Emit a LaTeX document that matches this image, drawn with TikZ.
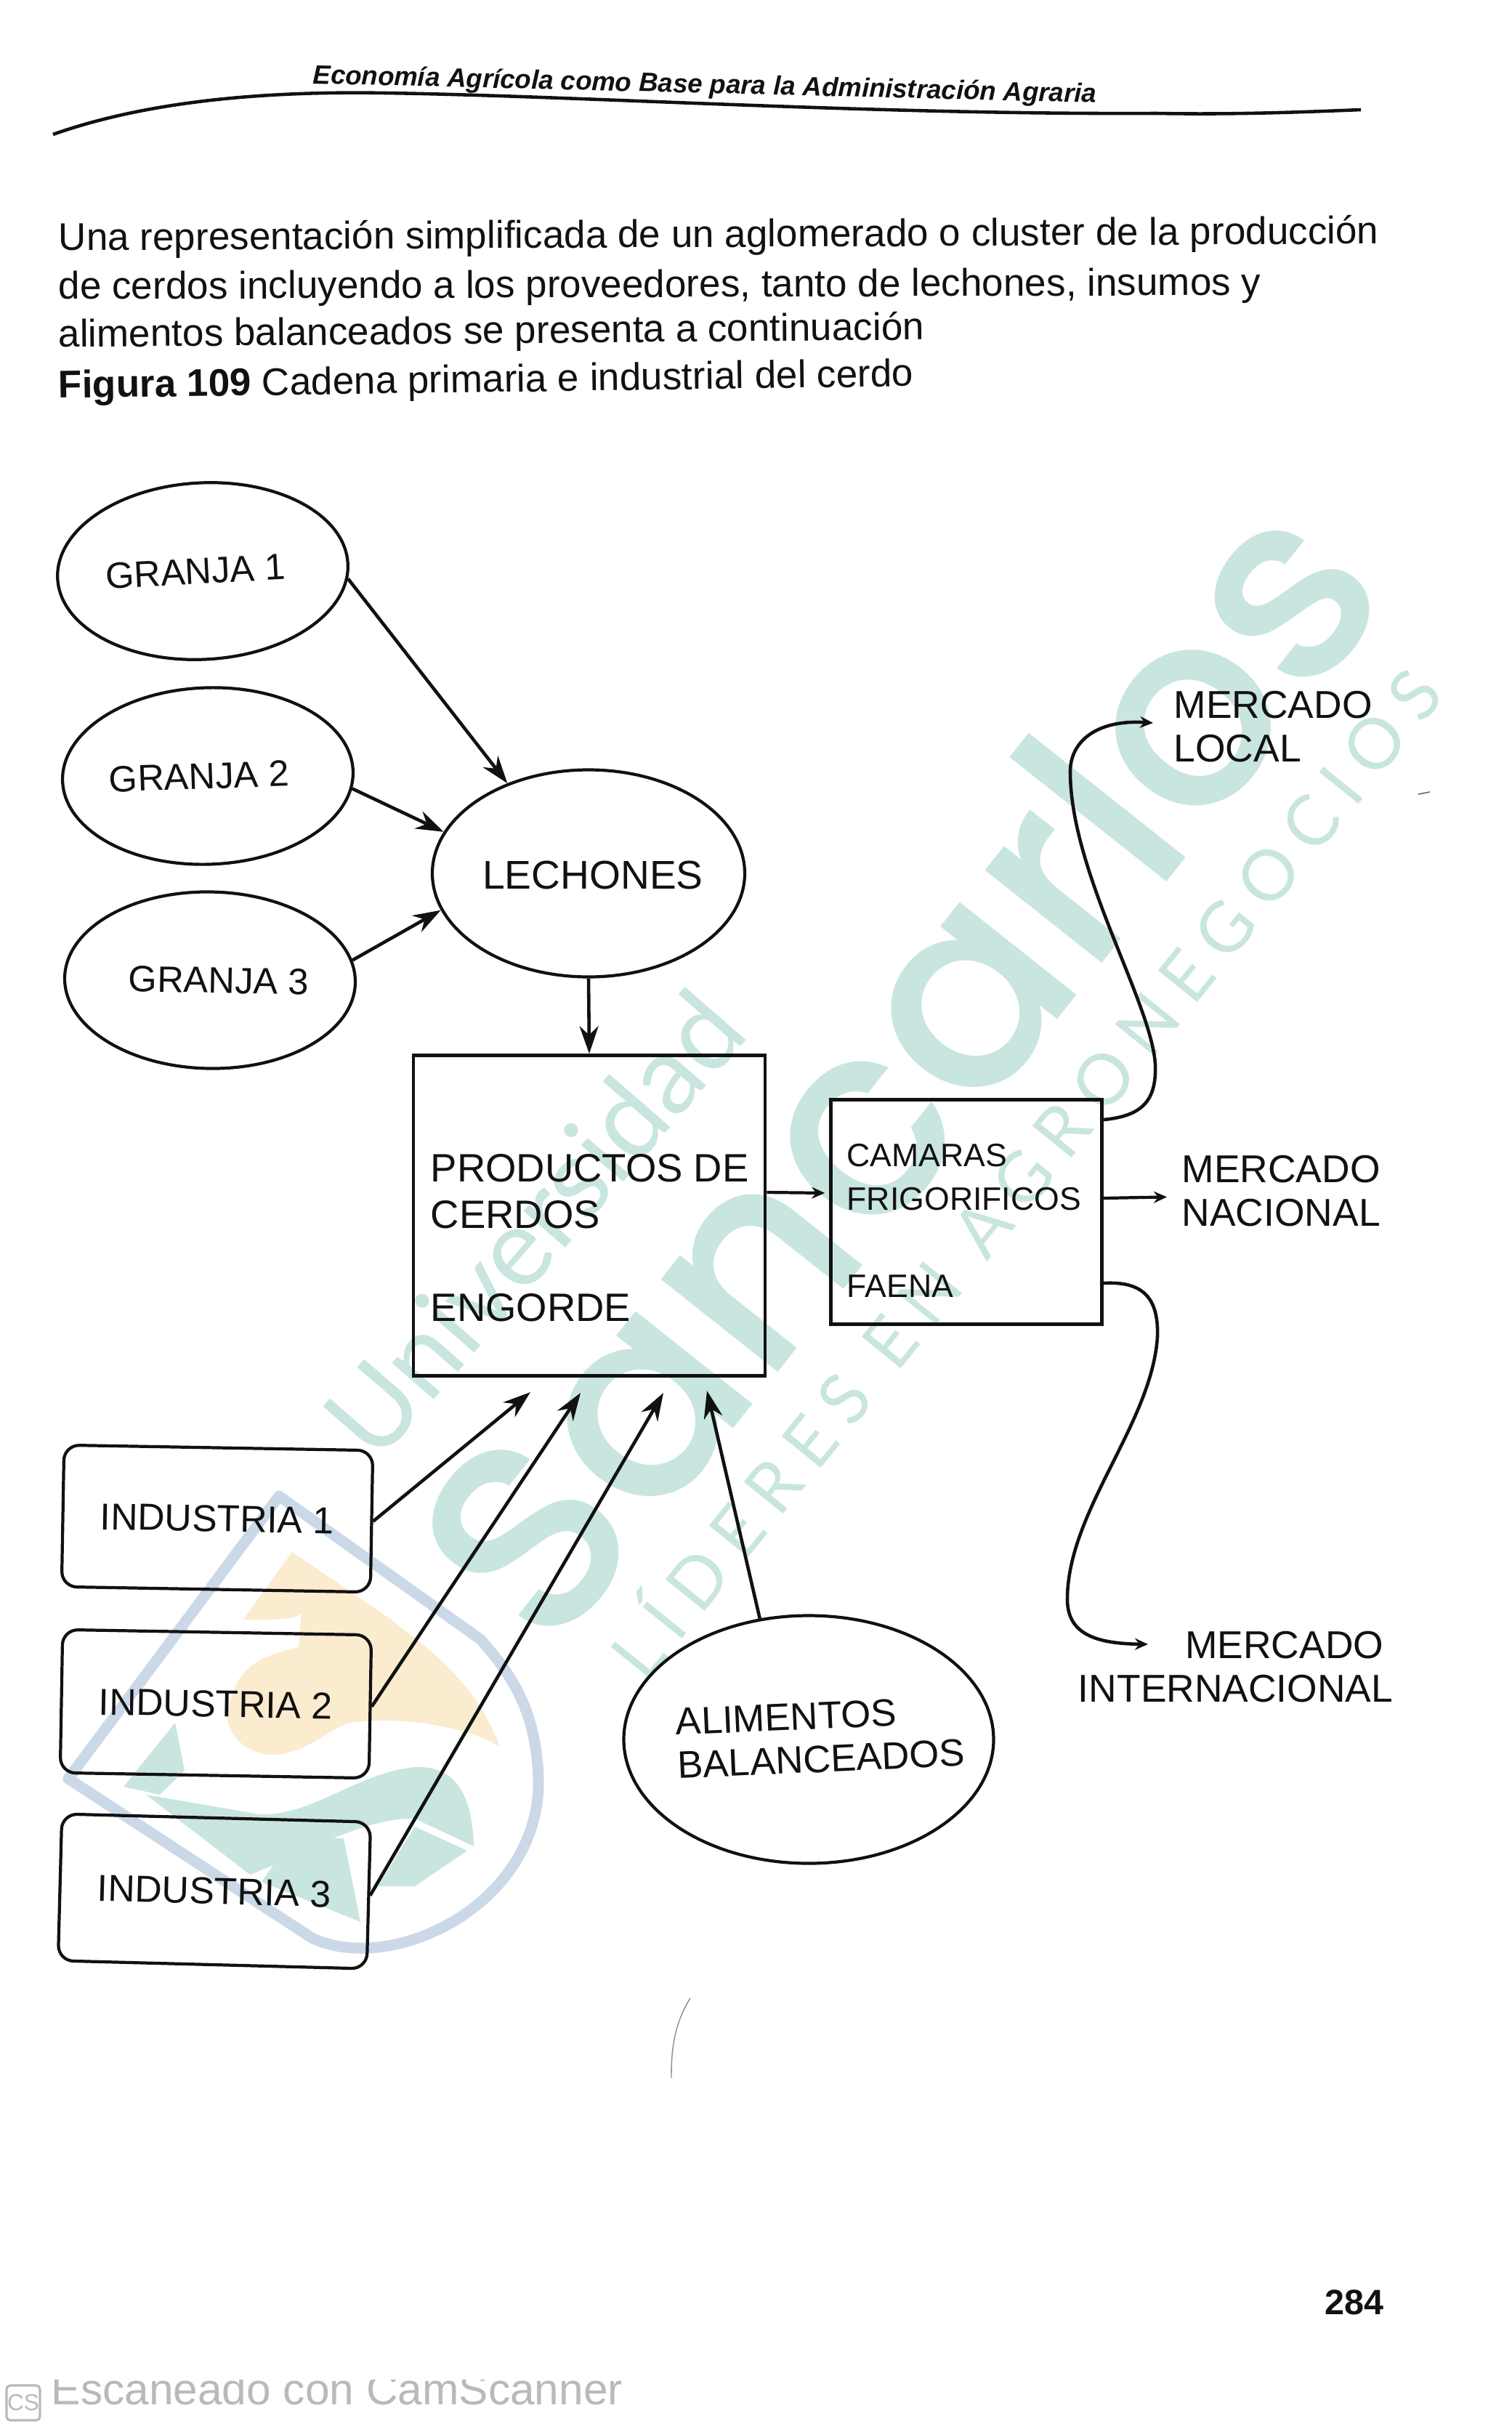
\documentclass[tikz,border=0pt]{standalone}
\usepackage{fontspec}
\setmainfont{Liberation Sans}
\newfontfamily\marcafont{Poppins Medium}
\newfontfamily\lemafont[LetterSpace=22]{Lato}
\newfontfamily\univfont{Lato}
\usetikzlibrary{arrows.meta,positioning,shapes.geometric}
\definecolor{marcaverde}{HTML}{C9E5DF}
\definecolor{marcaazul}{HTML}{CBD8E8}
\definecolor{marcaoro}{HTML}{FBEBCF}
\definecolor{tinta}{HTML}{111111}
\definecolor{sello}{HTML}{B9B9B9}

\begin{document}
\begin{tikzpicture}[
    every node/.style={text=tinta},
    granja/.style={draw=tinta, ellipse, line width=1.2pt, inner sep=0pt,
                   minimum width=40mm, minimum height=24.3mm,
                   font=\fontsize{14.4}{17}\selectfont},
    industria/.style={draw=tinta, rounded corners=6pt, line width=1.2pt, inner sep=0pt,
                      minimum width=42.5mm, minimum height=19.5mm,
                      font=\fontsize{14.7}{17}\selectfont},
    caja/.style={draw=tinta, line width=1.3pt, inner sep=0pt},
    cajatxt/.style={anchor=west, align=left, inner sep=0pt},
    mercado/.style={align=left, inner sep=0pt, font=\fontsize{15.2}{17}\selectfont},
    parrafo/.style={anchor=base west, inner sep=0pt, font=\fontsize{15.1}{17}\selectfont},
    marca/.style={inner sep=0pt, text=marcaverde},
    flecha/.style={draw=tinta, line width=1.3pt, -{Stealth[length=3.8mm,width=2.6mm]}},
    flechita/.style={draw=tinta, line width=1.2pt, -{Stealth[length=1.8mm,width=1.6mm]}},
]
\useasboundingbox (0,0) rectangle (20.8,-33.43);

% === Watermark ===
\node[marca, rotate=51.6, font=\marcafont\fontsize{106}{106}\selectfont] (mSan) at (12.32,-14.66) {Sancarlos};
\node[marca, rotate=49, font=\univfont\fontsize{43}{43}\selectfont] (mUni) at (7.35,-16.84) {Universidad};
\node[marca, rotate=51, font=\lemafont\fontsize{27.5}{27.5}\selectfont] (mLem) at (14.05,-16.10) {LÍDERES EN AGRONEGOCIOS};

\fill[marcaoro] (4.02,-21.36) -- (3.35,-22.29) .. controls (3.6,-22.3) and (4.15,-22.3) .. (4.15,-22.18)
  -- (4.11,-22.67) .. controls (3.6,-22.8) and (3.2,-22.9) .. (3.13,-23.66)
  .. controls (3.2,-24.0) and (3.5,-24.15) .. (3.75,-24.15)
  .. controls (4.2,-24.15) and (4.5,-23.8) .. (4.82,-23.71) .. controls (5.6,-23.6) and (6.5,-23.8) .. (6.88,-24.04)
  .. controls (6.5,-23.0) and (5.6,-22.5) .. (5.4,-22.3) -- cycle;
\fill[marcaverde] (1.7,-24.59) -- (2.41,-23.71) -- (2.54,-24.37) -- (2.2,-24.7) -- cycle;
\fill[marcaverde] (2.01,-24.7) -- (3.57,-24.97) .. controls (4.3,-25.0) and (4.9,-24.4) .. (5.71,-24.32)
  .. controls (6.2,-24.3) and (6.5,-24.6) .. (6.52,-25.41) -- (5.71,-25.03)
  .. controls (5.0,-25.0) and (4.0,-25.6) .. (3.44,-25.8) -- cycle;
\fill[marcaverde] (4.02,-25.3) -- (4.73,-25.3) -- (4.96,-26.45) -- (3.6,-25.9) -- cycle;
\fill[marcaverde] (5.71,-25.14) -- (6.43,-25.47) -- (5.71,-25.96) -- (5.2,-25.96) -- cycle;
\draw[marcaazul, line width=1.5mm, line join=round]
  (3.84,-20.59) -- (0.94,-24.48) -- (4.29,-26.67)
  .. controls (5.4,-27.2) and (7.45,-26.2) .. (7.41,-24.48)
  .. controls (7.38,-23.5) and (7.0,-23.0) .. (6.61,-22.56) -- cycle;

% === Header ===
\node[anchor=base west, inner sep=0pt, rotate=-1.4, font=\bfseries\itshape\fontsize{10.4}{14}\selectfont]
  (cabecera) at (4.30,-1.15) {Economía Agrícola como Base para la Administración Agraria};
\draw[tinta, line width=1.3pt] (0.73,-1.85) .. controls (2,-1.4) and (3.6,-1.25) .. (5.3,-1.28)
  .. controls (8,-1.32) and (12,-1.58) .. (15.92,-1.56) .. controls (17,-1.58) and (18,-1.54) .. (18.73,-1.51);

% === Text above the figure ===
\node[parrafo, rotate=0.3] (linea1) at (0.80,-3.45) {Una representación simplificada de un aglomerado o cluster de la producción};
\node[parrafo, rotate=0.2] (linea2) at (0.80,-4.12) {de cerdos incluyendo a los proveedores, tanto de lechones, insumos y};
\node[parrafo, rotate=0.5] (linea3) at (0.80,-4.78) {alimentos balanceados se presenta a continuación};
\node[parrafo, rotate=0.8] (linea4) at (0.80,-5.48) {\textbf{Figura 109} Cadena primaria e industrial del cerdo};

% === Farms ===
\node[granja, rotate=3] (granja1) at (2.79,-7.86)  {GRANJA 1\hspace*{2mm}};
\node[granja, rotate=2] (granja2) at (2.86,-10.68) {GRANJA 2\hspace*{2.4mm}};
\node[granja, rotate=-1] (granja3) at (2.89,-13.49) {\hspace*{2.4mm}GRANJA 3};
\node[granja, minimum width=43mm, minimum height=28.5mm] (lechones) at (8.10,-12.02) {};
\node[cajatxt, anchor=center, font=\fontsize{15.7}{17}\selectfont] (lechtxt) at (8.16,-12.04) {LECHONES};

% === Boxes ===
\node[caja, minimum width=48.4mm, minimum height=44.1mm] (prod) at (8.11,-16.73) {};
\node[cajatxt, font=\fontsize{15.5}{18.2}\selectfont] (prodtxt) at (5.92,-17.04) {PRODUCTOS DE\\CERDOS\\[18.2pt]ENGORDE};
\node[caja, minimum width=37.3mm, minimum height=30.9mm] (cam) at (13.30,-16.68) {};
\node[cajatxt, font=\fontsize{12.7}{17}\selectfont] (camtxt) at (11.65,-16.8) {CAMARAS\\FRIGORIFICOS\\[17pt]FAENA};

% === Industries and feed ===
\node[industria, rotate=-1] (ind1) at (2.99,-20.90) {INDUSTRIA 1};
\node[industria, rotate=-1, minimum height=19.7mm] (ind2) at (2.97,-23.45) {INDUSTRIA 2};
\node[industria, rotate=-1.5, minimum height=20.2mm] (ind3) at (2.95,-26.03) {INDUSTRIA 3};
\node[granja, minimum width=50.9mm, minimum height=34.1mm] (alim) at (11.13,-23.94) {};
\node[cajatxt, anchor=center, rotate=2.5, font=\fontsize{15}{17}\selectfont] (alimtxt) at (11.29,-23.91) {ALIMENTOS\\BALANCEADOS};

% === Markets ===
\node[mercado, anchor=west] (mlocal) at (16.15,-10.0) {MERCADO\\LOCAL};
\node[mercado, anchor=west] (mnac) at (16.26,-16.39) {MERCADO\\NACIONAL};
\node[mercado, anchor=east, align=right] (mint) at (19.18,-22.94) {MERCADO\hspace*{1.3mm}\\INTERNACIONAL};

% === Arrow ends that touch no node ===
\coordinate (ent1) at (7.30,-19.16);
\coordinate (ent2) at (7.99,-19.17);
\coordinate (ent3) at (9.13,-19.17);
\coordinate (ent4) at (9.73,-19.14);
\coordinate (sallocal) at (15.87,-9.95);
\coordinate (salint) at (15.80,-22.63);

% === Arrows ===
\draw[flecha] (granja1.-6) -- (lechones.132);
\draw[flecha] (granja2.-7) -- (lechones.164);
\draw[flecha] (granja3.9) -- (lechones.194);
\draw[flecha] (lechones.south) -- (prod.north);
\draw[flecha] (ind1.east) -- (ent1);
\draw[flecha] (ind2.east) -- (ent2);
\draw[flecha] (ind3.east) -- (ent3);
\draw[flecha] (alim.112) -- (ent4);
\draw[flechita, shorten >=0.6mm] ([yshift=3.2mm]prod.east) -- ([yshift=2.6mm]cam.west);
\draw[flechita, shorten >=2mm] ([yshift=1.9mm]cam.east) -- ([yshift=-0.8mm]mnac.west);
\draw[flechita, line width=1.3pt] ([yshift=12.7mm]cam.east)
  .. controls +(0.53,0.05) and (15.92,-15.15) .. (15.90,-14.65)
  .. controls (15.85,-13.8) and (14.73,-12.0) .. (14.73,-10.62)
  .. controls (14.73,-10.2) and (15.1,-9.9) .. (sallocal);
\draw[flechita, line width=1.3pt] ([yshift=-9.8mm]cam.east)
  .. controls +(0.53,0.03) and (15.95,-17.85) .. (15.93,-18.40)
  .. controls (15.85,-19.6) and (14.69,-20.8) .. (14.69,-22.01)
  .. controls (14.69,-22.5) and (15.1,-22.62) .. (salint);

% === Page marks ===
\draw[black!45, line width=0.4pt] (9.50,-27.5) .. controls (9.25,-27.9) and (9.24,-28.3) .. (9.24,-28.6);
\draw[black!55, line width=0.5pt] (19.52,-10.93) -- (19.68,-10.9);
\node[inner sep=0pt, font=\bfseries\fontsize{13.8}{16}\selectfont] (pagina) at (18.64,-31.69) {284};

% === Scanner stamp ===
\begin{scope}
  \clip (0,-32.75) rectangle (20.8,-33.43);
  \node[anchor=base west, inner sep=0pt, text=sello, font=\fontsize{17.2}{18}\selectfont] (sellotxt) at (0.70,-33.09) {Escaneado con CamScanner};
\end{scope}
\node[draw=sello, fill=white, rounded corners=1.5pt, line width=0.9pt, minimum width=4.6mm, minimum height=4.8mm,
      inner sep=0pt, text=sello, font=\fontsize{9}{10}\selectfont] (sellocs) at (0.32,-33.07) {CS};
\end{tikzpicture}
\end{document}
